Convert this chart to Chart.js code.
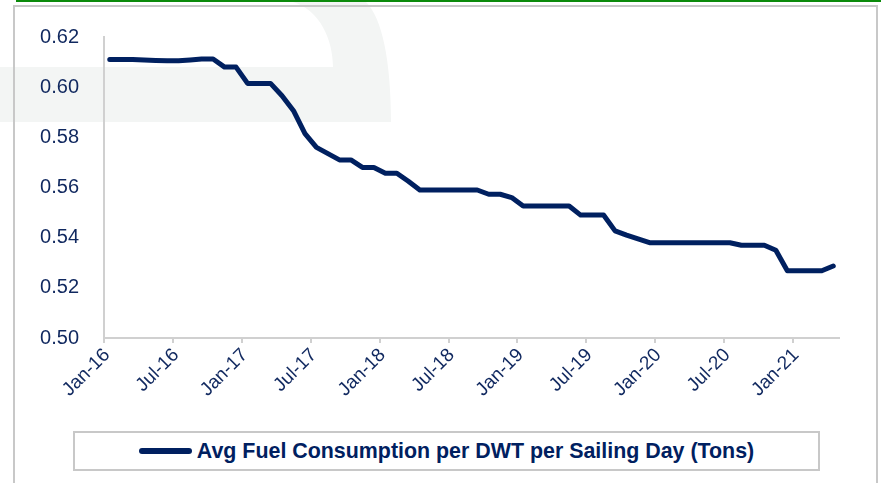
<!DOCTYPE html>
<html>
<head>
<meta charset="utf-8">
<script src="https://cdn.jsdelivr.net/npm/chart.js@4.4.1/dist/chart.umd.min.js"></script>
<style>
  html, body { margin: 0; padding: 0; background: #fff; }
  #wrap { position: relative; width: 881px; height: 483px; overflow: hidden; }
  #c { position: absolute; left: 0; top: 0; }
  #legend {
    position: absolute; left: 73px; top: 431px; width: 747px; height: 40px;
    box-sizing: border-box; border: 2px solid #c8c8c8; background: #fff;
    display: flex; align-items: center; justify-content: center;
    font-family: 'Liberation Sans', Arial, sans-serif; font-weight: bold; font-size: 21.4px; color: #002060;
  }
  #legend .swatch { display: inline-block; width: 53px; height: 6px; border-radius: 3px; background: #002060; margin-right: 5px; }
</style>
</head>
<body>
<div id="wrap">
  <canvas id="c" width="881" height="483"></canvas>
  <div id="legend"><span class="swatch"></span><span id="legendText"></span></div>
</div>
<script>
// Monthly categories (Jan-16 .. Apr-21)
const months = [
  'Jan-16','Feb-16','Mar-16','Apr-16','May-16','Jun-16','Jul-16','Aug-16','Sep-16','Oct-16','Nov-16','Dec-16',
  'Jan-17','Feb-17','Mar-17','Apr-17','May-17','Jun-17','Jul-17','Aug-17','Sep-17','Oct-17','Nov-17','Dec-17',
  'Jan-18','Feb-18','Mar-18','Apr-18','May-18','Jun-18','Jul-18','Aug-18','Sep-18','Oct-18','Nov-18','Dec-18',
  'Jan-19','Feb-19','Mar-19','Apr-19','May-19','Jun-19','Jul-19','Aug-19','Sep-19','Oct-19','Nov-19','Dec-19',
  'Jan-20','Feb-20','Mar-20','Apr-20','May-20','Jun-20','Jul-20','Aug-20','Sep-20','Oct-20','Nov-20','Dec-20',
  'Jan-21','Feb-21','Mar-21','Apr-21'
];
const seriesName = 'Avg Fuel Consumption per DWT per Sailing Day (Tons)';
const fuelPerDwt = [
  0.6110, 0.6110, 0.6110, 0.6108, 0.6106, 0.6105, 0.6105, 0.6108, 0.6112, 0.6112, 0.6080, 0.6080,
  0.6015, 0.6015, 0.6015, 0.5966, 0.5906, 0.5815, 0.5760, 0.5735, 0.5710, 0.5710, 0.5680, 0.5680,
  0.5657, 0.5657, 0.5625, 0.5590, 0.5590, 0.5590, 0.5590, 0.5590, 0.5590, 0.5573, 0.5573, 0.5560,
  0.5526, 0.5526, 0.5526, 0.5526, 0.5526, 0.5490, 0.5490, 0.5490, 0.5427, 0.5410, 0.5395, 0.5380,
  0.5380, 0.5380, 0.5380, 0.5380, 0.5380, 0.5380, 0.5380, 0.5370, 0.5370, 0.5370, 0.5350, 0.5268,
  0.5268, 0.5268, 0.5268, 0.5287
];
const yTicks = [0.50, 0.52, 0.54, 0.56, 0.58, 0.60, 0.62];
const xTickEvery = 6; // a labelled tick every 6 months

document.getElementById('legendText').textContent = seriesName;

const textColor = '#10285f';
const axisColor = '#d0d0d0';
const fontFamily = "'Liberation Sans', Arial, sans-serif";

const backdrop = {
  id: 'backdrop',
  beforeDraw(chart) {
    const ctx = chart.ctx;
    ctx.save();
    // faint watermark
    ctx.fillStyle = '#f3f5f4';
    ctx.beginPath();
    ctx.moveTo(0, 67);
    ctx.lineTo(333, 67);
    ctx.bezierCurveTo(333, 40, 320, 10, 293, 2);
    ctx.lineTo(366, 2);
    ctx.bezierCurveTo(382, 18, 391, 60, 391, 122);
    ctx.lineTo(0, 122);
    ctx.closePath();
    ctx.fill();
    // green top rule
    ctx.fillStyle = '#0b8a0b';
    ctx.fillRect(16, 0, 865, 2);
    // grey frame
    ctx.strokeStyle = '#c8c8c8';
    ctx.lineWidth = 2;
    ctx.beginPath();
    ctx.moveTo(14, 483);
    ctx.lineTo(14, 6);
    ctx.lineTo(877, 6);
    ctx.lineTo(877, 483);
    ctx.stroke();
    ctx.restore();
  }
};

new Chart(document.getElementById('c'), {
  type: 'line',
  data: {
    datasets: [{
      label: seriesName,
      data: fuelPerDwt.map((v, i) => ({ x: i, y: v })),
      borderColor: '#002060',
      backgroundColor: '#002060',
      borderWidth: 5,
      borderCapStyle: 'round',
      borderJoinStyle: 'round',
      pointRadius: 0,
      tension: 0,
      fill: false
    }]
  },
  options: {
    responsive: false,
    animation: false,
    layout: { padding: { left: 0, right: 42, top: 36, bottom: 0 } },
    plugins: { legend: { display: false }, tooltip: { enabled: false } },
    scales: {
      x: {
        type: 'linear',
        min: -0.5,
        max: months.length - 0.5,
        afterBuildTicks(scale) {
          const t = [];
          for (let i = 0; i < months.length - 1; i += xTickEvery) t.push({ value: i - 0.5 });
          scale.ticks = t;
        },
        afterFit(scale) { scale.height = 483 - 338; },
        grid: { display: true, drawOnChartArea: false, drawTicks: true, tickLength: 5, color: axisColor, lineWidth: 2 },
        border: { display: true, color: axisColor, width: 2 },
        ticks: {
          autoSkip: false,
          maxRotation: 45,
          minRotation: 45,
          padding: 1,
          labelOffset: 3,
          color: textColor,
          font: { family: fontFamily, size: 19 },
          callback: (v) => months[Math.round(v + 0.5)] || ''
        }
      },
      y: {
        min: yTicks[0],
        max: yTicks[yTicks.length - 1],
        afterBuildTicks(scale) { scale.ticks = yTicks.map(v => ({ value: v })); },
        afterFit(scale) { scale.width = 104; },
        grid: { display: false, drawTicks: false },
        border: { display: true, color: axisColor, width: 2 },
        ticks: {
          padding: 25,
          color: textColor,
          font: { family: fontFamily, size: 20 },
          callback: (v) => Number(v).toFixed(2)
        }
      }
    }
  },
  plugins: [backdrop]
});
</script>
</body>
</html>
